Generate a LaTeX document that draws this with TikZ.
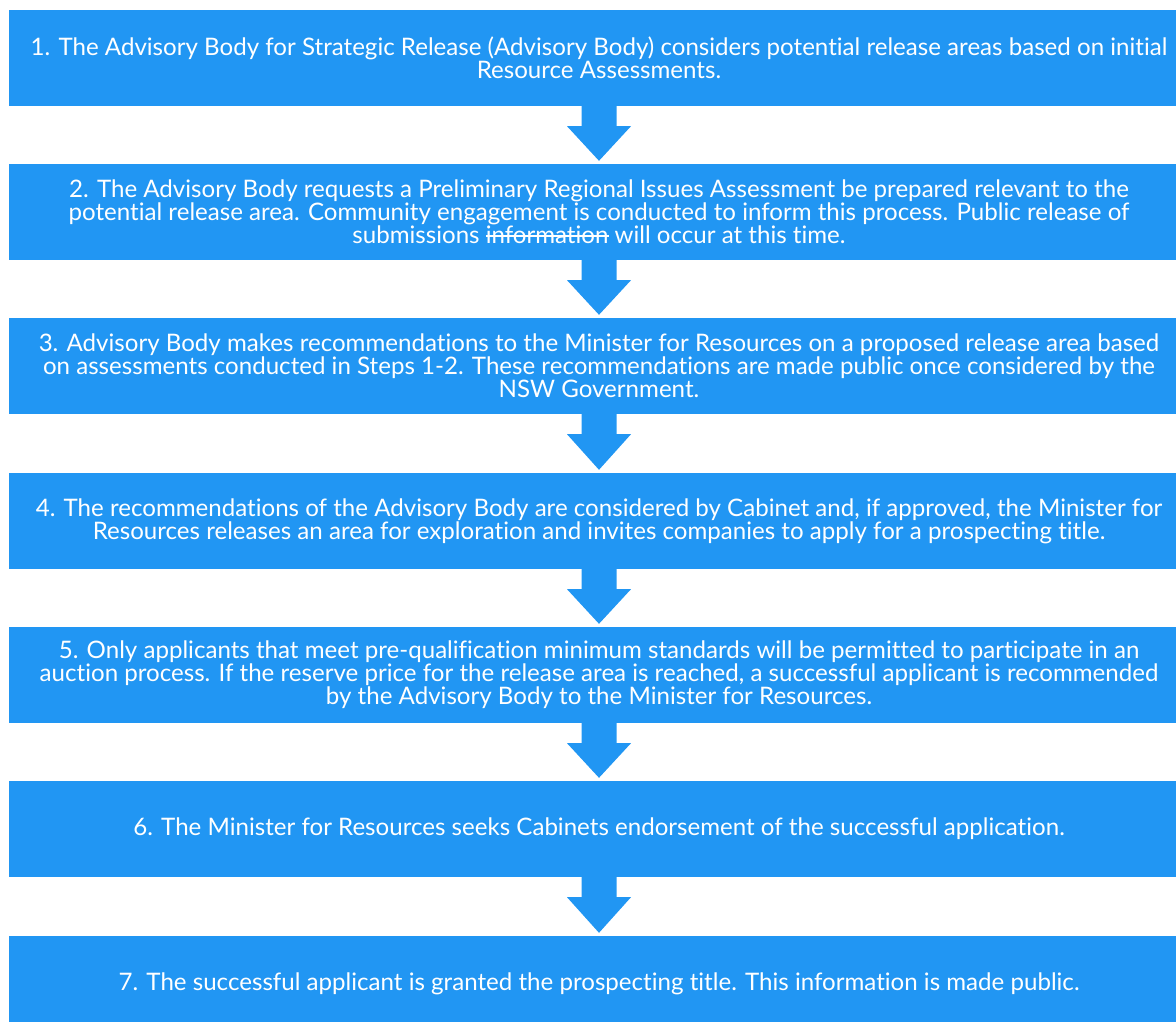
\documentclass[tikz,border=0pt]{standalone}
\usepackage{fontspec}
\setmainfont{Lato}[Ligatures=NoCommon]
\definecolor{boxblue}{RGB}{33,150,243}
\newsavebox\mystrikebox
\newcommand\strikeword[1]{\sbox\mystrikebox{#1}\rlap{\usebox\mystrikebox}\rule[0.3em]{\wd\mystrikebox}{1.5pt}}
\begin{document}
\begin{tikzpicture}
\tikzset{
  stepbox/.style={fill=boxblue, minimum width=1180pt, minimum height=96pt, inner sep=0pt,
    text=white, align=center, font=\fontsize{24.1}{23}\selectfont},
  flowarrow/.style={fill=boxblue}
}
\useasboundingbox (0,0) rectangle (1176pt,-1022pt);
\clip (0,0) rectangle (1176pt,-1022pt);
\node[stepbox] (b1) at (599pt,-58pt) {1. The Advisory Body for Strategic Release (Advisory Body) considers potential release areas based on initial\\Resource Assessments.};
\node[stepbox] (b2) at (599pt,-212pt) {2. The Advisory Body requests a Preliminary Regional Issues Assessment be prepared relevant to the\\potential release area. Community engagement is conducted to inform this process. Public release of\\submissions \strikeword{information} will occur at this time.};
\node[stepbox] (b3) at (599pt,-366pt) {3. Advisory Body makes recommendations to the Minister for Resources on a proposed release area based\\on assessments conducted in Steps 1-2. These recommendations are made public once considered by the\\NSW Government.};
\node[stepbox] (b4) at (599pt,-521pt) {4. The recommendations of the Advisory Body are considered by Cabinet and, if approved, the Minister for\\Resources releases an area for exploration and invites companies to apply for a prospecting title.};
\node[stepbox] (b5) at (599pt,-675pt) {5. Only applicants that meet pre-qualification minimum standards will be permitted to participate in an\\auction process. If the reserve price for the release area is reached, a successful applicant is recommended\\by the Advisory Body to the Minister for Resources.};
\node[stepbox] (b6) at (599pt,-829pt) {6. The Minister for Resources seeks Cabinets endorsement of the successful application.};
\node[stepbox] (b7) at (599pt,-984pt) {7. The successful applicant is granted the prospecting title. This information is made public.};
\foreach \a/\b in {b1/b2,b2/b3,b3/b4,b4/b5,b5/b6,b6/b7}{
  \fill[flowarrow] ([xshift=-17.5pt]\a.south) -- ([xshift=-17.5pt,yshift=-20pt]\a.south)
    -- ([xshift=-32pt,yshift=-20pt]\a.south) -- ([yshift=3pt]\b.north)
    -- ([xshift=32pt,yshift=-20pt]\a.south) -- ([xshift=17.5pt,yshift=-20pt]\a.south)
    -- ([xshift=17.5pt]\a.south) -- cycle;
}
\end{tikzpicture}
\end{document}
